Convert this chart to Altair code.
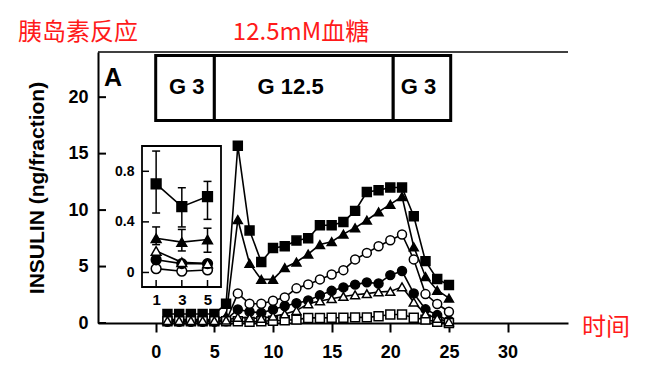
import altair as alt
import pandas as pd

# ---------------- data ----------------
fractions = list(range(1, 26))
filled_square = [0.8, 0.8, 0.8, 0.8, 0.8, 1.7, 15.7, 8.2, 5.4, 6.65, 6.8, 7.3, 7.5,
                 8.66, 8.66, 8.95, 9.93, 11.6, 11.75, 12.0, 12.0, 9.46, 5.48, 3.89, 3.36]
filled_triangle = [0.3, 0.3, 0.3, 0.3, 0.3, 0.6, 9.16, 5.27, 3.86, 3.86, 4.9, 5.4, 6.1,
                   6.95, 7.2, 7.87, 8.43, 9.1, 9.84, 10.5, 11.2, 6.75, 4.1, 2.9, 2.2]
open_circle = [0.1, 0.1, 0.1, 0.1, 0.1, 0.15, 2.62, 1.7, 1.7, 1.97, 2.27, 3.07, 3.42,
               3.86, 4.3, 4.68, 5.63, 6.21, 6.8, 7.33, 7.84, 5.63, 2.56, 1.68, 1.0]
filled_circle = [0.2, 0.2, 0.2, 0.2, 0.2, 0.3, 1.2, 1.0, 0.9, 1.2, 1.5, 1.75, 2.0,
                 2.45, 2.85, 3.15, 3.4, 3.6, 3.5, 4.24, 4.6, 2.62, 1.21, 0.7, 0.2]
open_triangle = [0.2, 0.2, 0.2, 0.2, 0.2, 0.25, 0.5, 0.45, 0.4, 0.6, 0.8, 1.1, 1.7,
                 1.95, 2.15, 2.35, 2.5, 2.6, 2.75, 2.8, 3.2, 1.85, 0.8, 0.4, 0.1]
open_square = [0.15, 0.15, 0.15, 0.15, 0.15, 0.15, 0.15, 0.1, 0.15, 0.2, 0.25, 0.3, 0.45,
               0.45, 0.47, 0.47, 0.5, 0.5, 0.6, 0.75, 0.75, 0.47, 0.3, 0.1, 0.0]

series_names = ["open square", "open triangle", "filled circle", "open circle",
                "filled triangle", "filled square"]
series_shapes = ["square", "triangle-up", "circle", "circle", "triangle-up", "square"]
series_fills = ["white", "white", "black", "white", "black", "black"]

# inset (fractions 1, 3, 5)
inset_x = [1, 3, 5]
inset_filled_square = [0.70, 0.52, 0.60]
inset_filled_square_lo = [0.47, 0.36, 0.42]
inset_filled_square_hi = [0.96, 0.67, 0.72]
inset_filled_triangle = [0.27, 0.24, 0.26]
inset_filled_triangle_lo = [0.22, 0.17, 0.16]
inset_filled_triangle_hi = [0.36, 0.34, 0.35]
inset_open_triangle = [0.17, 0.08, 0.07]
inset_filled_circle = [0.10, 0.07, 0.07]
inset_open_circle = [0.03, 0.01, 0.02]
inset_names = ["open circle", "filled circle", "open triangle", "filled triangle", "filled square"]
inset_shapes = ["circle", "circle", "triangle-up", "triangle-up", "square"]
inset_fills = ["white", "black", "white", "black", "black"]

# glucose protocol bar
gluc_start = [0, 5, 20.25]
gluc_end = [5, 20.25, 25.15]
gluc_label = ["G 3", "G 12.5", "G 3"]
gluc_label_x = [2.64, 11.5, 22.4]

x_ticks = [0, 5, 10, 15, 20, 25, 30]
y_ticks = [0, 5, 10, 15, 20]
inset_x_ticks = [1, 3, 5]
inset_y_ticks = [0, 0.4, 0.8]

# ---------------- tables ----------------
main_df = pd.DataFrame({
    "x": fractions * 6,
    "y": open_square + open_triangle + filled_circle + open_circle + filled_triangle + filled_square,
    "series": sum([[n] * len(fractions) for n in series_names], []),
})
inset_df = pd.DataFrame({
    "x": inset_x * 5,
    "y": inset_open_circle + inset_filled_circle + inset_open_triangle + inset_filled_triangle + inset_filled_square,
    "series": sum([[n] * len(inset_x) for n in inset_names], []),
})
err_df = pd.DataFrame({
    "x": inset_x * 2,
    "lo": inset_filled_triangle_lo + inset_filled_square_lo,
    "hi": inset_filled_triangle_hi + inset_filled_square_hi,
})
caps_df = pd.DataFrame({
    "x": inset_x * 4,
    "v": inset_filled_triangle_lo + inset_filled_square_lo + inset_filled_triangle_hi + inset_filled_square_hi,
})
gluc_df = pd.DataFrame({"start": gluc_start, "end": gluc_end, "label": gluc_label, "lx": gluc_label_x})
ytick_df = pd.DataFrame({"v": y_ticks})
ixtick_df = pd.DataFrame({"v": inset_x_ticks})
iytick_df = pd.DataFrame({"v": inset_y_ticks})

FONT = "Liberation Sans"
X_DOM = [-4.92, 35.15]
Y_DOM = [0, 24]
IX_DOM = [-0.1, 6.05]
IY_DOM = [-0.115, 1.0]

mx = alt.Scale(domain=X_DOM, nice=False, zero=False)
my = alt.Scale(domain=Y_DOM, nice=False, zero=False)
ix = alt.Scale(domain=IX_DOM, range=[44, 123], nice=False, zero=False)
iy = alt.Scale(domain=IY_DOM, range=[235, 94], nice=False, zero=False)

x_axis = alt.Axis(values=x_ticks, title=None, grid=False, domainWidth=2, domainColor="black",
                  tickColor="black", tickWidth=2, tickSize=9, labelFont=FONT, labelFontSize=18,
                  labelFontWeight="bold", labelColor="black", labelPadding=11, labelFlush=False)
y_axis = alt.Axis(values=y_ticks, title="INSULIN (ng/fraction)", grid=False, ticks=False, tickSize=0,
                  domainWidth=2, domainColor="black", labelFont=FONT, labelFontSize=18,
                  labelFontWeight="bold", labelColor="black", labelPadding=10, labelFlush=False,
                  titleFont=FONT, titleFontSize=21, titleFontWeight="bold", titleColor="black",
                  titlePadding=20)
ix_axis = alt.Axis(values=inset_x_ticks, title=None, grid=False, ticks=False, tickSize=0, domain=False,
                   orient="bottom", offset=-36, labelFont=FONT, labelFontSize=15, labelFontWeight="bold",
                   labelColor="black", labelPadding=5, labelFlush=False)
iy_axis = alt.Axis(values=inset_y_ticks, title=None, grid=False, ticks=False, tickSize=0, domain=False,
                   orient="left", offset=-44, format="~g", labelFont=FONT, labelFontSize=14,
                   labelFontWeight="bold", labelColor="black", labelPadding=8, labelFlush=False)

shape_scale = alt.Scale(domain=series_names, range=series_shapes)
fill_scale = alt.Scale(domain=series_names, range=series_fills)
ishape_scale = alt.Scale(domain=inset_names, range=inset_shapes)
ifill_scale = alt.Scale(domain=inset_names, range=inset_fills)

# ---------------- main panel ----------------
top_line = alt.Chart(pd.DataFrame({"v": [Y_DOM[1]]})).mark_rule(color="black", strokeWidth=1.5).encode(
    y=alt.Y("v:Q", scale=my, axis=y_axis), x=alt.value(0), x2=alt.value("width"))

y_inner_ticks = alt.Chart(ytick_df).mark_rule(color="black", strokeWidth=2).encode(
    y=alt.Y("v:Q", scale=my, axis=y_axis), x=alt.value(0), x2=alt.value(8))

gluc_box = alt.Chart(gluc_df).mark_rect(fill="white", stroke="black", strokeWidth=3).encode(
    x=alt.X("start:Q", scale=mx, axis=x_axis), x2="end:Q",
    y=alt.YDatum(17.94, scale=my, axis=y_axis), y2=alt.datum(23.7))

gluc_text = alt.Chart(gluc_df).mark_text(font=FONT, fontSize=22, fontWeight="bold", color="black").encode(
    x=alt.X("lx:Q", scale=mx, axis=x_axis), y=alt.YDatum(20.9, scale=my, axis=y_axis), text="label:N")

panel_letter = alt.Chart(pd.DataFrame({"t": ["A"]})).mark_text(
    font=FONT, fontSize=25, fontWeight="bold", color="black").encode(
    text="t:N", x=alt.value(15), y=alt.value(26))

red_props = dict(font="Noto Sans CJK SC", fontSize=24, color="#ff1a1a")
red1 = alt.Chart(pd.DataFrame({"t": ["胰岛素反应"]})).mark_text(**red_props).encode(
    text="t:N", x=alt.value(-20), y=alt.value(-19))
red2 = alt.Chart(pd.DataFrame({"t": ["12.5mM血糖"]})).mark_text(**red_props).encode(
    text="t:N", x=alt.value(203), y=alt.value(-19))
red3 = alt.Chart(pd.DataFrame({"t": ["时间"]})).mark_text(**red_props).encode(
    text="t:N", x=alt.value(508), y=alt.value(276))

main_lines = alt.Chart(main_df).mark_line(color="black", strokeWidth=1.6).encode(
    x=alt.X("x:Q", scale=mx, axis=x_axis), y=alt.Y("y:Q", scale=my, axis=y_axis), detail="series:N")

main_points = alt.Chart(main_df).mark_point(filled=True, stroke="black", strokeWidth=1.5, size=80, opacity=1).encode(
    x=alt.X("x:Q", scale=mx, axis=x_axis), y=alt.Y("y:Q", scale=my, axis=y_axis),
    shape=alt.Shape("series:N", scale=shape_scale, legend=None),
    fill=alt.Fill("series:N", scale=fill_scale, legend=None),
    order=alt.Order("series:N"))

main = alt.layer(top_line, gluc_box, gluc_text, main_lines, main_points, y_inner_ticks,
                 panel_letter, red1, red2, red3)

# ---------------- inset ----------------
frame = alt.Chart(pd.DataFrame({"a": [IX_DOM[0]], "b": [IX_DOM[1]], "c": [IY_DOM[0]], "d": [IY_DOM[1]]})).mark_rect(
    fill="white", stroke="black", strokeWidth=1.8).encode(
    x=alt.X("a:Q", scale=ix, axis=ix_axis), x2="b:Q",
    y=alt.Y("c:Q", scale=iy, axis=iy_axis), y2="d:Q")

inset_lines = alt.Chart(inset_df).mark_line(color="black", strokeWidth=1.6).encode(
    x=alt.X("x:Q", scale=ix, axis=ix_axis), y=alt.Y("y:Q", scale=iy, axis=iy_axis), detail="series:N")

err_rules = alt.Chart(err_df).mark_rule(color="black", strokeWidth=1.5).encode(
    x=alt.X("x:Q", scale=ix, axis=ix_axis), y=alt.Y("lo:Q", scale=iy, axis=iy_axis), y2="hi:Q")

err_caps = alt.Chart(caps_df).mark_tick(color="black", orient="horizontal", size=8, thickness=1.5, opacity=1).encode(
    x=alt.X("x:Q", scale=ix, axis=ix_axis), y=alt.Y("v:Q", scale=iy, axis=iy_axis))

inset_points = alt.Chart(inset_df).mark_point(filled=True, stroke="black", strokeWidth=1.5, size=95, opacity=1).encode(
    x=alt.X("x:Q", scale=ix, axis=ix_axis), y=alt.Y("y:Q", scale=iy, axis=iy_axis),
    shape=alt.Shape("series:N", scale=ishape_scale, legend=None),
    fill=alt.Fill("series:N", scale=ifill_scale, legend=None))

iy_ticks = alt.Chart(iytick_df).mark_rule(color="black", strokeWidth=1.5, x2Offset=7).encode(
    y=alt.Y("v:Q", scale=iy, axis=iy_axis),
    x=alt.XDatum(IX_DOM[0], scale=ix, axis=ix_axis), x2=alt.datum(IX_DOM[0]))

ix_ticks = alt.Chart(ixtick_df).mark_rule(color="black", strokeWidth=1.5, y2Offset=-7).encode(
    x=alt.X("v:Q", scale=ix, axis=ix_axis),
    y=alt.YDatum(IY_DOM[0], scale=iy, axis=iy_axis), y2=alt.datum(IY_DOM[0]))

inset = alt.layer(frame, inset_lines, err_rules, err_caps, inset_points, iy_ticks, ix_ticks)

chart = alt.layer(main, inset).resolve_scale(
    x="independent", y="independent", shape="independent", fill="independent"
).properties(
    width=470, height=271,
    autosize=alt.AutoSizeParams(type="none"),
    padding={"left": 98, "top": 52, "right": 85, "bottom": 48},
    background="white",
).configure_view(stroke=None)

chart.save("out.html", embed_options={"renderer": "svg", "actions": False})
